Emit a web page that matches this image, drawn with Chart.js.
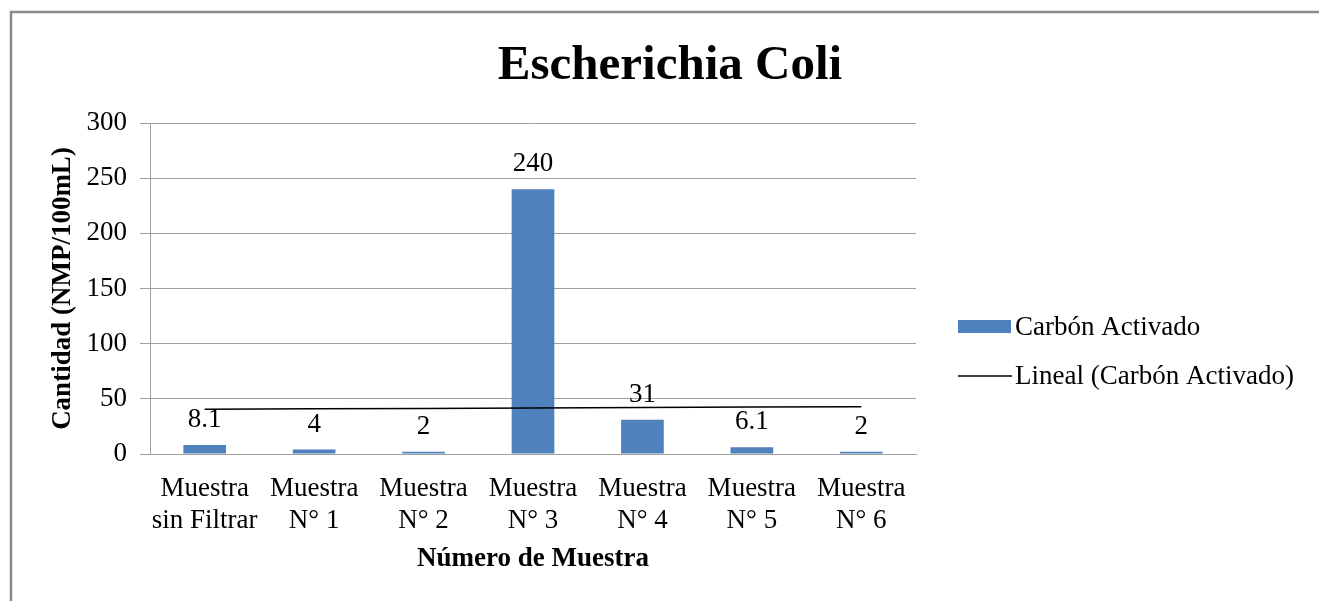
<!DOCTYPE html>
<html>
<head>
<meta charset="utf-8">
<title>Escherichia Coli</title>
<script src="https://cdn.jsdelivr.net/npm/chart.js@4/dist/chart.umd.min.js"></script>
<style>
  html, body { margin: 0; padding: 0; background: #fff; }
  canvas { display: block; }
</style>
</head>
<body>
<canvas id="ecoliChart" width="1319" height="601"></canvas>
<script>
// datos
const categories = [
    ['Muestra', 'sin Filtrar'],
    ['Muestra', 'N° 1'],
    ['Muestra', 'N° 2'],
    ['Muestra', 'N° 3'],
    ['Muestra', 'N° 4'],
    ['Muestra', 'N° 5'],
    ['Muestra', 'N° 6']
];
const carbonValues = [8.1, 4, 2, 240, 31, 6.1, 2];
// linea de tendencia (lineal)
const trendValues = [40.5, 40.9, 41.3, 41.7, 42.1, 42.5, 42.9];
const yTicks = [0, 50, 100, 150, 200, 250, 300];

const seriesName = 'Carbón Activado';
const trendName = 'Lineal (Carbón Activado)';
const barColor = '#4f81bd';
const gridColor = '#a0a0a0';
const serif = "'Liberation Serif', 'Times New Roman', serif";

const frameAndTitle = {
    id: 'frameAndTitle',
    beforeDraw(chart) {
        const ctx = chart.ctx;
        ctx.save();
        ctx.fillStyle = '#fff';
        ctx.fillRect(0, 0, chart.width, chart.height);
        ctx.strokeStyle = '#8a8a8a';
        ctx.lineWidth = 2.5;
        ctx.strokeRect(11, 12, 1400, 700);
        ctx.restore();
    },
    afterDraw(chart) {
        const ctx = chart.ctx;
        ctx.save();
        ctx.fillStyle = '#000';
        ctx.font = 'bold 49px ' + serif;
        ctx.textAlign = 'center';
        ctx.textBaseline = 'alphabetic';
        ctx.fillText('Escherichia Coli', 670, 79);

        // leyenda
        ctx.font = '27px ' + serif;
        ctx.textAlign = 'left';
        ctx.textBaseline = 'middle';
        ctx.fillStyle = barColor;
        ctx.fillRect(958, 320, 53, 13);
        ctx.fillStyle = '#000';
        ctx.fillText(seriesName, 1015, 328);
        ctx.strokeStyle = '#000';
        ctx.lineWidth = 1.5;
        ctx.beginPath();
        ctx.moveTo(958, 376);
        ctx.lineTo(1012, 376);
        ctx.stroke();
        ctx.fillText(trendName, 1015, 377);
        ctx.restore();
    }
};

const barLabels = {
    id: 'barLabels',
    afterDatasetsDraw(chart) {
        const ctx = chart.ctx;
        const meta = chart.getDatasetMeta(0);
        ctx.save();
        ctx.font = '27px ' + serif;
        ctx.fillStyle = '#000';
        ctx.textAlign = 'center';
        ctx.textBaseline = 'alphabetic';
        meta.data.forEach((bar, i) => {
            ctx.fillText(String(carbonValues[i]), bar.x, bar.y - 18);
        });
        ctx.restore();
    }
};

const ctx = document.getElementById('ecoliChart').getContext('2d');
const chart = new Chart(ctx, {
    data: {
        labels: categories,
        datasets: [
            {
                type: 'bar',
                label: seriesName,
                data: carbonValues,
                backgroundColor: barColor,
                categoryPercentage: 1,
                barPercentage: 0.39,
                order: 2
            },
            {
                type: 'line',
                label: trendName,
                data: trendValues,
                borderColor: '#000',
                borderWidth: 1.5,
                pointRadius: 0,
                fill: false,
                tension: 0,
                order: 1
            }
        ]
    },
    options: {
        responsive: false,
        animation: false,
        devicePixelRatio: 1,
        layout: { padding: { left: 0, top: 123, right: 403, bottom: 0 } },
        plugins: {
            legend: { display: false },
            title: { display: false },
            tooltip: { enabled: false }
        },
        scales: {
            x: {
                grid: { display: false, drawTicks: false },
                border: { display: true, color: gridColor, width: 1 },
                ticks: {
                    color: '#000',
                    font: { family: serif, size: 27, lineHeight: 1.18 },
                    padding: 19,
                    maxRotation: 0,
                    autoSkip: false
                },
                title: {
                    display: true,
                    text: 'Número de Muestra',
                    color: '#000',
                    font: { family: serif, size: 27, weight: 'bold', lineHeight: 1.2 },
                    padding: { top: 0, bottom: 26 }
                },
                afterFit(scale) { scale.height = 147; }
            },
            y: {
                min: 0,
                max: 300,
                afterBuildTicks(scale) {
                    scale.ticks = yTicks.map(v => ({ value: v }));
                },
                grid: { color: gridColor, tickLength: 10, drawTicks: true },
                border: { display: true, color: gridColor, width: 1 },
                ticks: {
                    color: '#000',
                    font: { family: serif, size: 27 },
                    padding: 13
                },
                title: {
                    display: true,
                    text: 'Cantidad (NMP/100mL)',
                    color: '#000',
                    font: { family: serif, size: 27, weight: 'bold', lineHeight: 1.2 },
                    padding: { top: 47, bottom: 0 }
                },
                afterFit(scale) { scale.width = 150; }
            }
        }
    },
    plugins: [frameAndTitle, barLabels]
});
</script>
</body>
</html>
